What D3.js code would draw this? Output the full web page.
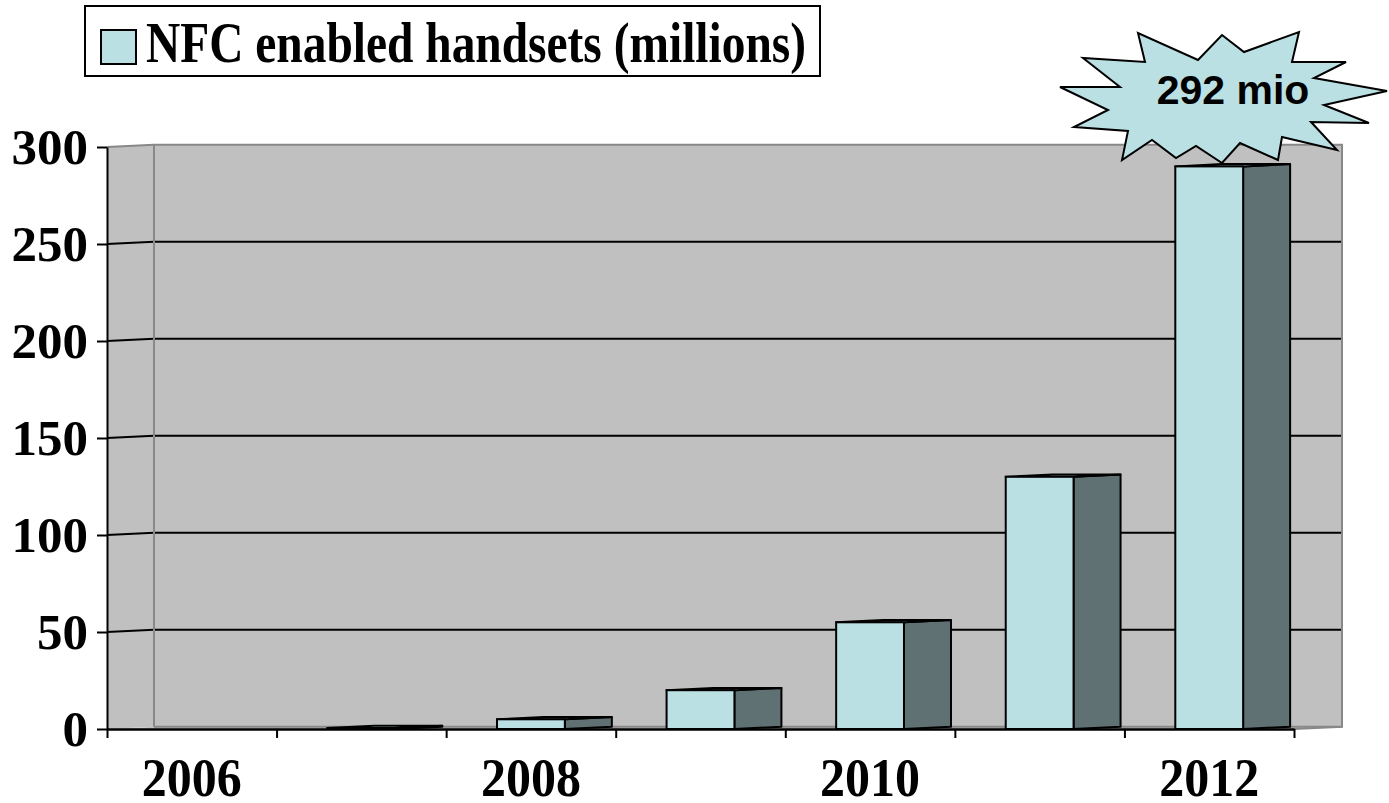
<!DOCTYPE html>
<html>
<head>
<meta charset="utf-8">
<script src="https://cdn.jsdelivr.net/npm/d3@7"></script>
<style>
  body { margin: 0; background: #fff; }
  svg { display: block; }
  .serif { font-family: "Liberation Serif", "Times New Roman", serif; font-weight: bold; }
</style>
</head>
<body>
<div id="chart"></div>
<script>
// data
var years = ["2006", "2007", "2008", "2009", "2010", "2011", "2012"];
var handsets = [0, 0.5, 5, 20, 55, 130, 290];
var yTicks = [0, 50, 100, 150, 200, 250, 300];
var xLabels = ["2006", "2008", "2010", "2012"];
var legendLabel = "NFC enabled handsets (millions)";
var calloutText = "292 mio";

var width = 1389, height = 803;
var light = "#bae0e3", dark = "#5f7173", wall = "#c0c0c0";

// 3d depth offset of the back wall
var dx = 47, dy = -2.3;

var svg = d3.select("#chart").append("svg")
    .attr("width", width)
    .attr("height", height);

var x = d3.scaleBand().domain(years).range([107, 1294]);
var xi = d3.scaleLinear().domain([0, years.length]).range([107, 1294]);
var y = d3.scaleLinear().domain([0, 300]).range([729, 147]);
var bw = x.bandwidth();
var backRight = 1342;

function pts(a) { return a.map(function(p) { return p.join(","); }).join(" "); }

// walls
var walls = svg.append("g");
walls.append("polygon")
    .attr("points", pts([[xi(0), y(300)], [xi(0) + dx, y(300) + dy], [xi(0) + dx, y(0) + dy], [xi(0), y(0)]]))
    .attr("fill", wall);
walls.append("rect")
    .attr("x", xi(0) + dx).attr("y", y(300) + dy)
    .attr("width", backRight - xi(0) - dx).attr("height", y(0) - y(300))
    .attr("fill", wall);
// floor
walls.append("polygon")
    .attr("points", pts([[xi(0), y(0)], [xi(0) + dx, y(0) + dy], [backRight, y(0) + dy], [xi(7), y(0)]]))
    .attr("fill", wall);

// gridlines
walls.selectAll("polyline.grid")
  .data(yTicks.filter(function(d) { return d > 0 && d < 300; }))
  .enter().append("polyline")
    .attr("class", "grid")
    .attr("fill", "none")
    .attr("stroke", "#000")
    .attr("stroke-width", 2)
    .attr("points", function(d) { return pts([[xi(0), y(d)], [xi(0) + dx, y(d) + dy], [backRight, y(d) + dy]]); });

// wall edges
walls.append("polyline")
    .attr("fill", "none").attr("stroke", "#888").attr("stroke-width", 2)
    .attr("points", pts([[xi(0), y(300)], [xi(0) + dx, y(300) + dy], [backRight, y(300) + dy], [backRight, y(0) + dy], [xi(7), y(0)]]));
walls.append("line")
    .attr("stroke", "#888").attr("stroke-width", 2)
    .attr("x1", xi(0) + dx).attr("x2", xi(0) + dx)
    .attr("y1", y(300) + dy).attr("y2", y(0) + dy);
walls.append("line")
    .attr("stroke", "#888").attr("stroke-width", 2)
    .attr("x1", xi(0) + dx).attr("x2", backRight)
    .attr("y1", y(0) + dy).attr("y2", y(0) + dy);

// bars
var bars = svg.append("g").selectAll("g")
  .data(years.map(function(d, i) { return {year: d, value: handsets[i]}; })
    .filter(function(d) { return d.value > 0; }))
  .enter().append("g");

bars.each(function(d) {
  var g = d3.select(this);
  var x0 = x(d.year) + bw * 0.30, x1 = x0 + bw * 0.40;
  var yt = y(d.value), yb = y(0);
  // side
  g.append("polygon")
      .attr("points", pts([[x1, yt], [x1 + dx, yt + dy], [x1 + dx, yb + dy], [x1, yb]]))
      .attr("fill", dark).attr("stroke", "#000").attr("stroke-width", 2)
      .attr("stroke-linejoin", "round");
  // top
  g.append("polygon")
      .attr("points", pts([[x0, yt], [x1, yt], [x1 + dx, yt + dy], [x0 + dx, yt + dy]]))
      .attr("fill", light).attr("stroke", "#000").attr("stroke-width", 2)
      .attr("stroke-linejoin", "round");
  // front
  g.append("rect")
      .attr("x", x0).attr("y", yt)
      .attr("width", x1 - x0).attr("height", yb - yt)
      .attr("fill", light).attr("stroke", "#000").attr("stroke-width", 2);
});

// y axis
var yAxis = svg.append("g")
    .attr("transform", "translate(" + xi(0) + ",0)")
    .call(d3.axisLeft(y).tickValues(yTicks).tickSize(10).tickSizeOuter(0).tickPadding(9));
yAxis.select(".domain").attr("stroke-width", 2);
yAxis.selectAll(".tick line").attr("stroke-width", 2);
yAxis.selectAll("text")
    .attr("class", "serif")
    .attr("fill", "#000")
    .style("font-size", "51px");

// x axis (ticks at category boundaries)
var xAxis = svg.append("g")
    .attr("transform", "translate(0," + y(0) + ")")
    .call(d3.axisBottom(xi).tickValues(d3.range(years.length + 1)).tickFormat("").tickSize(9).tickSizeOuter(0));
xAxis.select(".domain").attr("stroke-width", 2.5);
xAxis.selectAll(".tick line").attr("stroke-width", 2);

svg.append("g").selectAll("text")
  .data(xLabels)
  .enter().append("text")
    .attr("class", "serif")
    .attr("transform", function(d) { return "translate(" + (x(d) + bw / 2) + ",796) scale(1,1.08)"; })
    .attr("text-anchor", "middle")
    .style("font-size", "50px")
    .text(function(d) { return d; });

// legend
var legend = svg.append("g");
legend.append("rect")
    .attr("x", 85).attr("y", 6).attr("width", 735).attr("height", 70)
    .attr("fill", "#fff").attr("stroke", "#000").attr("stroke-width", 2);
legend.append("rect")
    .attr("x", 101).attr("y", 30).attr("width", 35).attr("height", 34)
    .attr("fill", light).attr("stroke", "#000").attr("stroke-width", 2);
legend.append("text")
    .attr("class", "serif")
    .attr("transform", "translate(146,62) scale(1,1.2)")
    .attr("textLength", 660)
    .attr("lengthAdjust", "spacingAndGlyphs")
    .style("font-size", "48px")
    .text(legendLabel);

// callout starburst
var star = [[1060, 87], [1120, 87], [1083, 58], [1145, 62], [1138, 33], [1198, 60],
  [1222, 35], [1244, 52], [1299, 32], [1292, 62], [1346, 62], [1314, 78],
  [1387, 91], [1324, 105], [1369, 123], [1311, 122], [1337, 150], [1282, 137],
  [1278, 160], [1240, 143], [1222, 163], [1196, 146], [1176, 158], [1152, 140],
  [1122, 160], [1128, 131], [1074, 127], [1108, 110]];
svg.append("polygon")
    .attr("points", pts(star))
    .attr("fill", light).attr("stroke", "#000").attr("stroke-width", 2)
    .attr("stroke-linejoin", "miter");
svg.append("text")
    .attr("x", 1233).attr("y", 104)
    .attr("text-anchor", "middle")
    .style("font-family", "'Liberation Sans', Arial, sans-serif")
    .style("font-weight", "bold")
    .style("font-size", "41px")
    .text(calloutText);
</script>
</body>
</html>
